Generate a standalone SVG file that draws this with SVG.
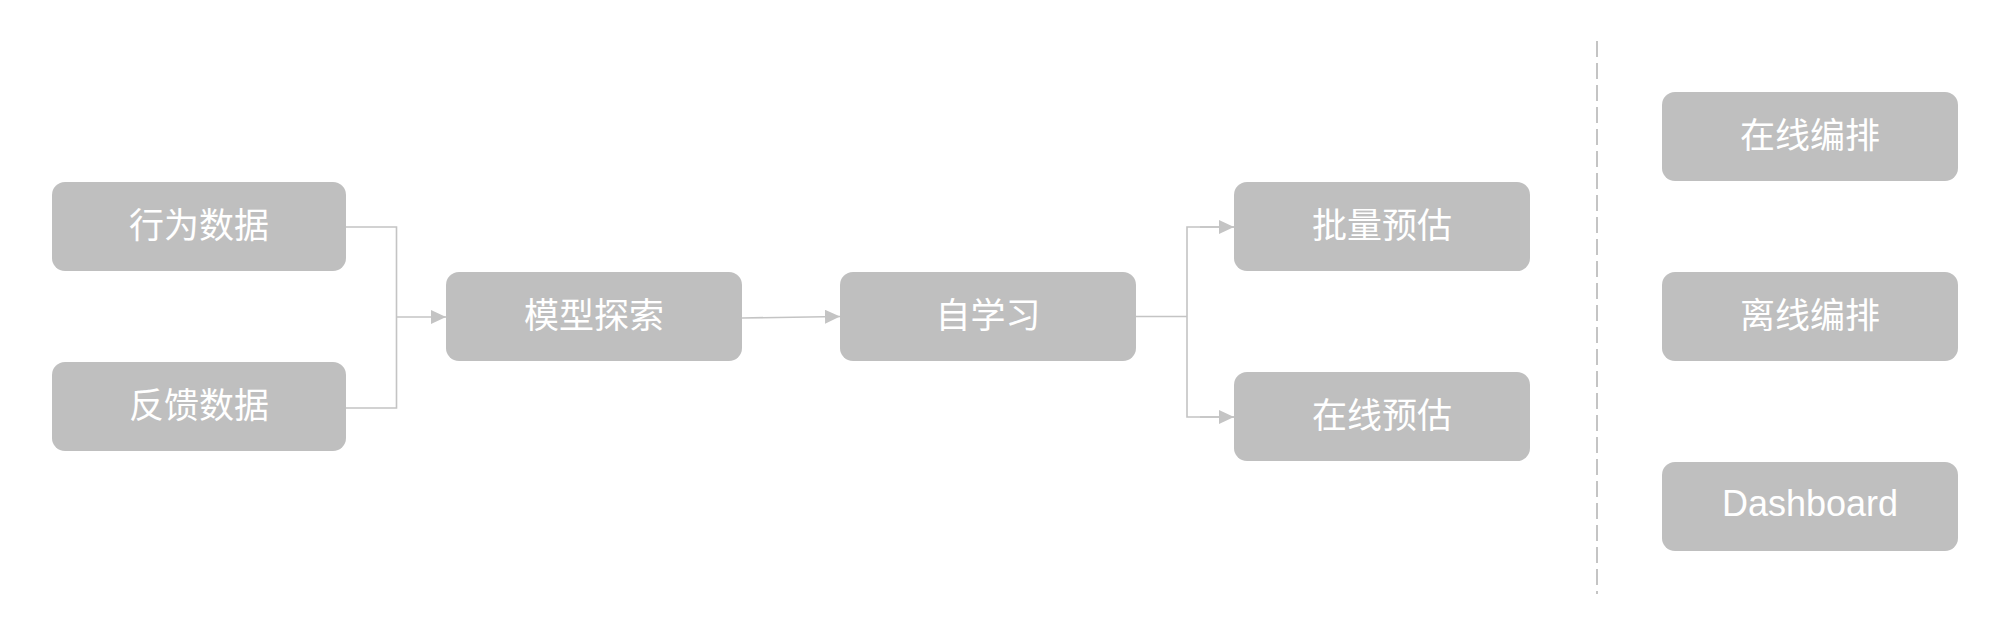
<svg xmlns="http://www.w3.org/2000/svg" width="2016" height="642" viewBox="0 0 2016 642">
<style>
.box{fill:#bfbfbf;}
.lbl{fill:#ffffff;font-family:"Noto Sans CJK SC","Liberation Sans",sans-serif;font-size:35px;text-anchor:middle;dominant-baseline:central;}
.en{font-family:"Liberation Sans","Noto Sans CJK SC",sans-serif;font-size:36px;}
.con{fill:none;stroke:#c4c4c4;stroke-width:1.6;}
.sep{fill:none;stroke:#c4c4c4;stroke-width:2;stroke-dasharray:16 6;}
</style>
<defs>
<marker id="arr" markerUnits="userSpaceOnUse" markerWidth="16" markerHeight="16" refX="15" refY="7" orient="auto">
<path d="M0,0 L15,7 L0,14 Z" fill="#c4c4c4"/>
</marker>
</defs>
<rect width="2016" height="642" fill="#ffffff"/>
<g id="connectors">
<polyline class="con" points="346,227 396.5,227 396.5,408 346,408"/>
<line class="con" x1="396.5" y1="317" x2="446" y2="317" marker-end="url(#arr)"/>
<line class="con" x1="742" y1="318" x2="840" y2="316.5" marker-end="url(#arr)"/>
<line class="con" x1="1136" y1="316.5" x2="1187" y2="316.5"/>
<polyline class="con" points="1234,227 1187,227 1187,417 1234,417"/>
<line class="con" x1="1200" y1="227" x2="1234" y2="227" marker-end="url(#arr)"/>
<line class="con" x1="1200" y1="417" x2="1234" y2="417" marker-end="url(#arr)"/>
<line class="sep" x1="1597" y1="41" x2="1597" y2="594"/>
</g>
<g id="n1"><rect class="box" x="52" y="182" width="294" height="89" rx="13"/><text class="lbl" x="199" y="222.5">行为数据</text></g>
<g id="n2"><rect class="box" x="52" y="362" width="294" height="89" rx="13"/><text class="lbl" x="199" y="402.5">反馈数据</text></g>
<g id="n3"><rect class="box" x="446" y="272" width="296" height="89" rx="13"/><text class="lbl" x="594" y="312.5">模型探索</text></g>
<g id="n4"><rect class="box" x="840" y="272" width="296" height="89" rx="13"/><text class="lbl" x="988" y="312.5">自学习</text></g>
<g id="n5"><rect class="box" x="1234" y="182" width="296" height="89" rx="13"/><text class="lbl" x="1382" y="222.5">批量预估</text></g>
<g id="n6"><rect class="box" x="1234" y="372" width="296" height="89" rx="13"/><text class="lbl" x="1382" y="412.5">在线预估</text></g>
<g id="n7"><rect class="box" x="1662" y="92" width="296" height="89" rx="13"/><text class="lbl" x="1810" y="132.5">在线编排</text></g>
<g id="n8"><rect class="box" x="1662" y="272" width="296" height="89" rx="13"/><text class="lbl" x="1810" y="312.5">离线编排</text></g>
<g id="n9"><rect class="box" x="1662" y="462" width="296" height="89" rx="13"/><text class="lbl en" x="1810" y="503.5">Dashboard</text></g>
</svg>
